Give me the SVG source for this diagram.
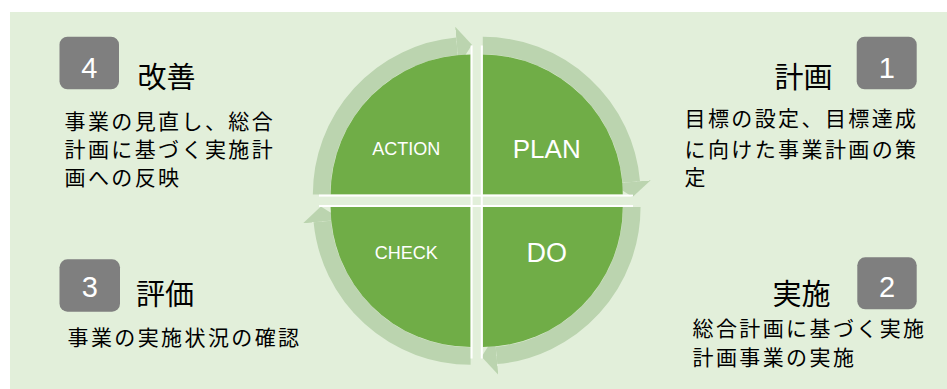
<svg xmlns="http://www.w3.org/2000/svg" width="947" height="389" viewBox="0 0 947 389">
<style>
.bg{fill:#e2efda}
.quad{fill:#70ad47}
.ring{fill:none;stroke:#bbd4af;stroke-width:17.5;marker-end:url(#head)}
.sep{fill:#ffffff}
.lbl{fill:#ffffff;font-family:"Liberation Sans",Arial,sans-serif;text-anchor:middle}
.box{fill:#7f7f7f}
.num{fill:#ffffff;font-family:"Liberation Sans",Arial,sans-serif;font-size:29px;text-anchor:middle}
.ttl{fill:#000000;font-family:"Noto Sans CJK JP",sans-serif;font-size:29px}
.dsc{fill:#000000;font-family:"Noto Sans CJK JP",sans-serif;font-size:21px;letter-spacing:2.4px}
</style>
<defs>
<marker id="head" viewBox="0 0 15 39" refX="0" refY="19.5" markerWidth="15" markerHeight="39" markerUnits="userSpaceOnUse" orient="auto">
<path d="M0,0 L15,19.5 L0,39 Z" fill="#bbd4af"/>
</marker>
</defs>
<rect class="bg" x="10" y="12" width="937" height="377"/>
<g id="connectors">
<path class="ring" d="M321.6,194.6 A149,149 0 0 1 457,46.2"/>
<path class="ring" d="M482.8,45.6 A149,149 0 0 1 631.3,182"/>
<path class="ring" d="M631.8,207 A149,149 0 0 1 496.5,355.4"/>
<path class="ring" d="M470.6,356 A149,149 0 0 1 322.3,221.5"/>
</g>
<g id="node-action">
<path class="quad" d="M470.6,194.6 L330.6,194.6 A140,140 0 0 1 470.6,54.6 Z"/>
<text class="lbl" x="406.2" y="155" font-size="18">ACTION</text>
</g>
<g id="node-plan">
<path class="quad" d="M482.8,194.6 L482.8,54.6 A140,140 0 0 1 622.8,194.6 Z"/>
<text class="lbl" x="546.7" y="158.3" font-size="26">PLAN</text>
</g>
<g id="node-do">
<path class="quad" d="M482.8,207 L622.8,207 A140,140 0 0 1 482.8,347 Z"/>
<text class="lbl" x="546.8" y="261.7" font-size="27">DO</text>
</g>
<g id="node-check">
<path class="quad" d="M470.6,207 L470.6,347 A140,140 0 0 1 330.6,207 Z"/>
<text class="lbl" x="406.2" y="259" font-size="18">CHECK</text>
</g>
<g id="separators">
<rect class="sep" x="470.6" y="45.5" width="2" height="313"/>
<rect class="sep" x="480.8" y="45.5" width="2" height="313"/>
<rect class="sep" x="319" y="194.6" width="314" height="2"/>
<rect class="sep" x="319" y="205" width="314" height="2"/>
</g>
<g id="step-4">
<rect class="box" x="59.5" y="36.7" width="59.5" height="52.6" rx="8"/>
<text class="num" x="89.3" y="78.3">4</text>
<text class="ttl" x="137.5" y="88">改善</text>
<text class="dsc" x="64.5" y="128.5">事業の見直し、総合</text>
<text class="dsc" x="64.5" y="156.5">計画に基づく実施計</text>
<text class="dsc" x="64.5" y="184.5">画への反映</text>
</g>
<g id="step-1">
<rect class="box" x="856.7" y="36.7" width="60" height="52.6" rx="8"/>
<text class="num" x="886.7" y="78.3">1</text>
<text class="ttl" x="774.5" y="88">計画</text>
<text class="dsc" x="684.5" y="125.5">目標の設定、目標達成</text>
<text class="dsc" x="684.5" y="156.5">に向けた事業計画の策</text>
<text class="dsc" x="684.5" y="185">定</text>
</g>
<g id="step-3">
<rect class="box" x="59.5" y="259.3" width="60.5" height="52.4" rx="8"/>
<text class="num" x="89.7" y="297">3</text>
<text class="ttl" x="136" y="304.5">評価</text>
<text class="dsc" x="67.5" y="345">事業の実施状況の確認</text>
</g>
<g id="step-2">
<rect class="box" x="857.3" y="257.3" width="59.4" height="52" rx="8"/>
<text class="num" x="887" y="297">2</text>
<text class="ttl" x="772.5" y="305">実施</text>
<text class="dsc" x="692.5" y="336">総合計画に基づく実施</text>
<text class="dsc" x="692.5" y="364.5">計画事業の実施</text>
</g>
</svg>
